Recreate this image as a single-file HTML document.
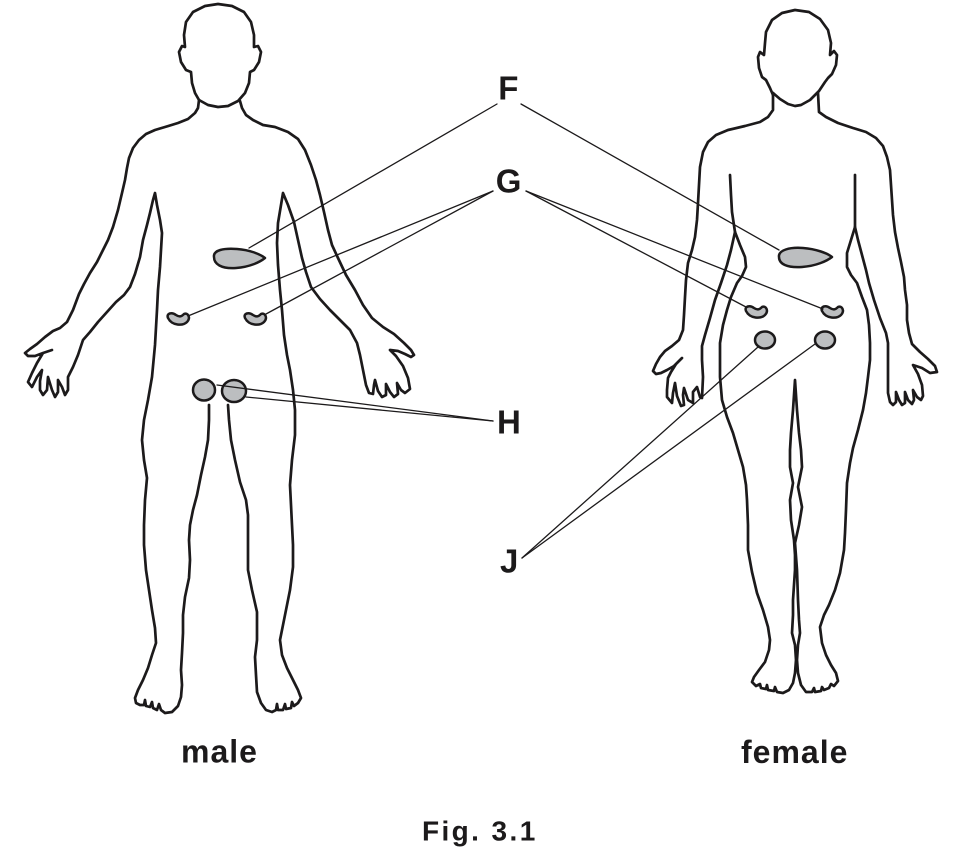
<!DOCTYPE html>
<html>
<head>
<meta charset="utf-8">
<style>
  html, body { margin: 0; padding: 0; background: #ffffff; }
  svg { display: block; }
  .b { fill: none; stroke: #1c1a1b; stroke-width: 2.7; stroke-linejoin: round; stroke-linecap: round; }
  .o { fill: #bcbec0; stroke: #1c1a1b; stroke-width: 2.5; stroke-linejoin: round; }
  .c { fill: none; stroke: #1c1a1b; stroke-width: 1.3; stroke-linecap: round; }
  .lbl { font-family: "Liberation Sans", Arial, sans-serif; font-weight: bold; fill: #1c1a1b; }
</style>
</head>
<body>
<svg width="958" height="857" viewBox="0 0 958 857" xmlns="http://www.w3.org/2000/svg">

  <!-- ================= MALE ================= -->
  <polyline class="b" points="199,100 195,93 192,83 191,72 186,70 181,62 179,52 182,46 185,47 184,35 186,22 193,12 205,6 218,4 232,6 244,12 251,22 254,35 254,47 258,46 261,52 259,62 254,70 250,72 249,83 245,93 238,101 228,106 218,107 208,105 199,100"/>
  <polyline class="b" points="199,100 198,108 195,113 188,119 178,123 165,127 155,130 146,134 139,140 133,148 129,158 127,168 125,180 122,193 118,210 113,227 108,240 103,250 97,262 90,273 84,284 79,294 73,310 67,322 60,328 53,331 45,337 37,344 30,349 25,353 28,356 35,356 43,353 52,350 43,353 37,363 32,373 28,382 32,387 37,377 42,370 40,381 40,390 43,395 47,390 48,377 52,390 55,397 58,392 58,380 62,387 65,395 68,390 68,377 73,367 78,355 83,340 90,332 98,322 107,312 116,302 124,295 130,287 135,274 140,257 143,240 147,225 150,213 153,200 155,193 157,205 160,220 162,233 161,250 160,267 158,290 157,310 155,345 152,377 148,400 144,420 142,440 144,460 147,478 145,500 144,525 144,545 146,570 149,590 152,610 155,628 156,643 152,655 148,668 143,680 138,690 135,698 136,703 140,705 144,705 145,700 146,706 150,707 152,702 153,708 157,710 159,704 161,710 165,713 172,712 178,706 181,697 182,685 181,670 182,653 183,633 183,615 185,597 189,578 190,560 189,540 190,525 193,510 197,495 201,475 205,457 208,440 209,420 209,405"/>
  <polyline class="b" points="228,405 229,420 231,440 235,460 240,482 246,500 248,515 248,540 248,570 252,590 257,612 257,640 255,657 256,675 257,692 261,703 266,710 272,712 276,710 277,704 278,710 283,710 285,704 286,709 291,708 292,702 294,706 298,703 301,698 298,690 293,680 287,668 282,655 280,640 283,625 286,610 290,590 293,567 293,545 292,525 291,505 290,485 292,460 295,435 295,410 293,390 290,370 287,355 284,335 282,310 280,290 278,265 277,243 278,223 281,205 283,193 288,205 294,222 298,240 302,258 306,272 311,287 320,299 330,310 340,320 350,330 357,343 360,355 363,370 366,385 369,393 373,394 374,385 375,380 378,391 382,397 386,395 386,384 390,392 394,397 398,394 397,383 401,390 405,393 410,389 408,378 403,366 396,356 390,350 398,351 405,354 411,357 414,355 411,350 404,343 394,334 383,327 372,318 363,305 355,290 346,275 338,258 332,245 328,230 324,212 320,195 316,180 311,165 305,150 298,139 288,132 275,127 263,125 253,120 246,115 242,108 240,101"/>

  <path class="o" d="M214,257 C213,250 224,248 237,249 C250,250 260,254 265,258 C260,262 250,267 236,268 C221,269 214,264 214,257 Z"/>
  <path class="o" d="M168,318 C166,313 172,312 176,315 C179,317 181,317 184,314 C188,312 191,318 187,322 C183,326 172,326 168,318 Z"/>
  <path class="o" d="M245,318 C243,313 249,312 253,315 C256,317 258,317 261,314 C265,312 268,318 264,322 C260,326 249,326 245,318 Z"/>
  <ellipse class="o" cx="204" cy="390" rx="11" ry="10.5"/>
  <ellipse class="o" cx="234" cy="391" rx="12" ry="11"/>

  <!-- ================= FEMALE ================= -->
  <polyline class="b" points="773,95 770,88 766,80 762,77 759,68 758,57 760,52 764,55 765,43 766,32 772,20 782,13 795,10 809,12 820,19 828,30 831,43 830,55 834,51 837,55 836,65 832,74 828,78 825,82 819,91 810,100 801,105 795,106 788,104 780,99 773,93"/>
  <polyline class="b" points="773,93 773,110 768,117 760,122 745,126 728,130 716,135 708,142 703,152 700,167 699,185 698,203 697,220 695,237 692,250 688,263 686,280 685,297 684,315 683,330 679,340 672,346 665,351 660,357 656,364 653,371 656,374 661,373 667,370 674,366 682,358 676,364 671,372 668,378 667,390 667,397 672,403 673,393 675,383 677,396 681,406 684,405 683,395 684,388 688,400 693,403 693,392 697,387 700,397 702,398 703,377 702,360 702,346 705,335 710,318 715,300 721,283 727,265 731,250 735,232"/>
  <polyline class="b" points="730,175 731,195 732,212 735,232 740,245 745,257 746,267 742,276 737,283 731,297 727,310 723,325 720,343 720,360 720,377 722,400 727,417 733,433 738,450 743,467 746,485 747,500 748,525 748,550 752,572 757,593 763,610 768,627 770,640 769,650 765,662 759,670 754,677 752,682 756,686 760,684 761,688 766,689 767,685 768,690 774,691 775,687 777,692 783,693 789,690 793,683 795,673 796,660 795,645 792,633 793,615 793,600 795,570 795,555 794,540 791,520 790,500 793,483 790,467 790,450 791,433 793,410 795,380 797,410 799,433 801,450 802,467 798,487 802,507 799,525 795,543 797,570 798,600 799,620 800,633 798,645 797,660 798,673 801,685 806,692 812,692 814,688 815,692 821,691 822,687 824,690 829,688 831,684 834,686 838,681 836,673 831,665 826,655 822,643 820,627 824,615 829,605 835,590 840,573 844,550 845,533 846,510 847,483 850,463 853,448 858,430 863,410 866,393 868,377 870,360 870,343 869,325 867,310 862,297 857,283 851,275 847,267 847,253 851,240 855,227 855,200 855,175"/>
  <polyline class="b" points="855,227 858,240 862,255 866,270 869,283 874,300 880,318 886,333 888,343 888,360 888,375 888,393 890,402 893,405 896,402 896,392 899,400 902,405 905,403 905,392 908,400 912,404 914,400 913,390 917,397 921,400 923,396 922,385 918,374 913,365 922,368 930,373 937,372 935,366 928,359 920,352 912,344 909,333 907,320 907,305 905,290 904,277 901,262 898,248 895,232 893,215 892,200 891,185 890,170 887,157 883,146 876,138 866,132 853,128 838,123 826,117 819,112 818,93"/>

  <path class="o" d="M779,257 C778,250 790,247 803,248 C816,249 827,253 832,257 C827,261 816,266 802,267 C787,268 779,264 779,257 Z"/>
  <path class="o" d="M746,311 C744,306 750,305 754,308 C757,310 759,310 762,307 C766,305 769,311 765,315 C761,319 750,319 746,311 Z"/>
  <path class="o" d="M822,311 C820,306 826,305 830,308 C833,310 835,310 838,307 C842,305 845,311 841,315 C837,319 826,319 822,311 Z"/>
  <ellipse class="o" cx="765" cy="340" rx="10" ry="8.5"/>
  <ellipse class="o" cx="825" cy="340" rx="10" ry="8.5"/>

  <!-- ================= CONNECTORS ================= -->
  <line class="c" x1="497" y1="104" x2="249" y2="248"/>
  <line class="c" x1="521" y1="104" x2="779" y2="250"/>
  <line class="c" x1="493" y1="191" x2="188" y2="316"/>
  <line class="c" x1="493" y1="191" x2="266" y2="314"/>
  <line class="c" x1="526" y1="191" x2="746" y2="307"/>
  <line class="c" x1="526" y1="191" x2="823" y2="309"/>
  <line class="c" x1="493" y1="421" x2="217" y2="385"/>
  <line class="c" x1="493" y1="421" x2="246" y2="397"/>
  <line class="c" x1="522" y1="558" x2="758" y2="347"/>
  <line class="c" x1="522" y1="558" x2="815" y2="344"/>

  <!-- ================= LABELS ================= -->
  <text class="lbl" x="498.3" y="99.3" font-size="33">F</text>
  <text class="lbl" x="495.8" y="192.5" font-size="33">G</text>
  <text class="lbl" x="497" y="433.3" font-size="33">H</text>
  <text class="lbl" x="500" y="572.5" font-size="33">J</text>

  <text class="lbl" x="181" y="762.5" font-size="32" style="letter-spacing:1px">male</text>
  <text class="lbl" x="741" y="763" font-size="32" style="letter-spacing:1px">female</text>
  <text class="lbl" x="422" y="840.7" font-size="28" style="letter-spacing:2.4px">Fig. 3.1</text>
</svg>
</body>
</html>
